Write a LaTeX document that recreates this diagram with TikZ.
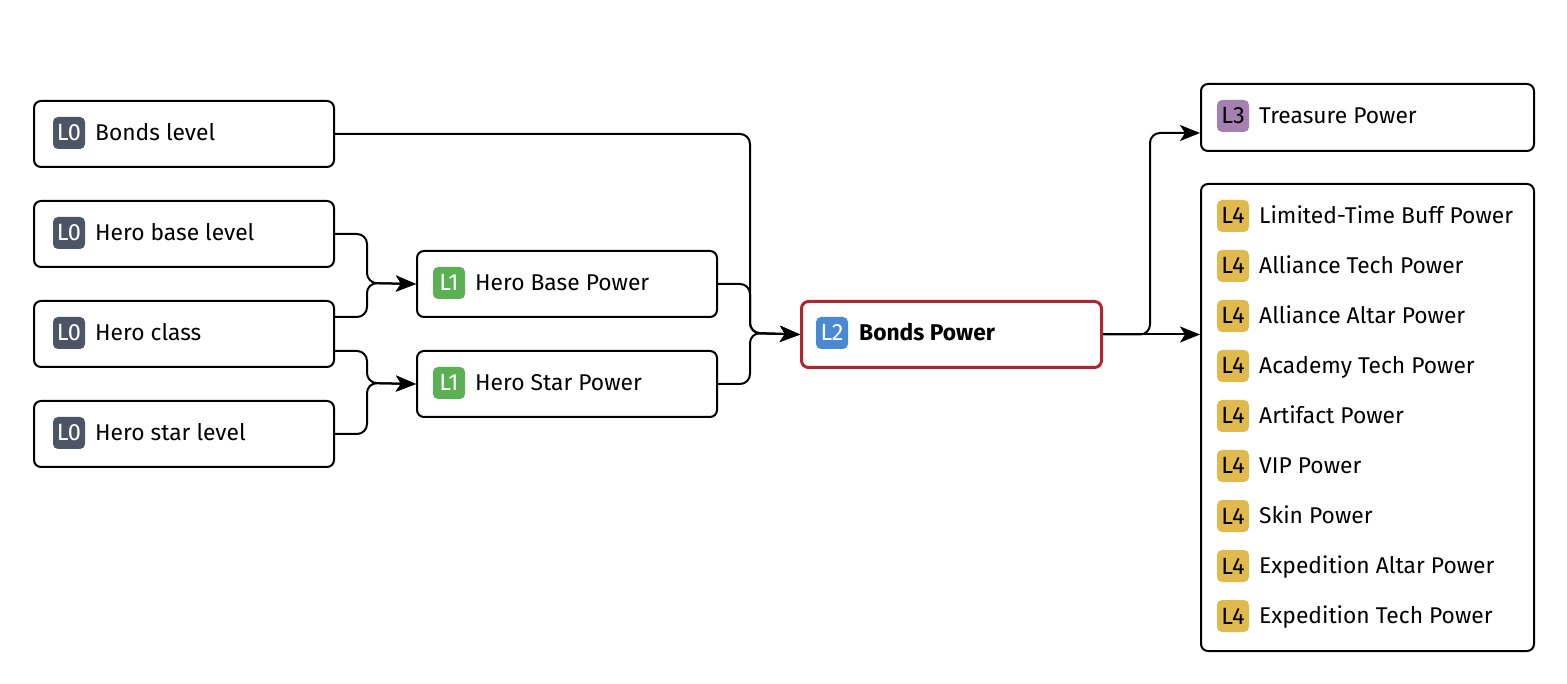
\documentclass[tikz,border=0pt]{standalone}
\usepackage{fontspec}
\setmainfont{Fira Sans}
\usetikzlibrary{arrows.meta,calc}
\definecolor{cL0}{HTML}{4B5565}
\definecolor{cL1}{HTML}{5BB054}
\definecolor{cL2}{HTML}{4A8AD2}
\definecolor{cL3}{HTML}{A680B0}
\definecolor{cL4}{HTML}{E1BA4E}
\definecolor{cRed}{HTML}{B3242B}
\tikzset{
  box/.style={draw=black, line width=2pt, rounded corners=7pt, fill=white, inner sep=0pt, anchor=north west},
  badge/.style={rounded corners=5pt, minimum size=32pt, inner sep=0pt, text height=16pt, text depth=0pt, font=\fontsize{23.5}{27}\selectfont},
  lbl/.style={anchor=base west, inner sep=0pt, font=\fontsize{22.8}{27}\selectfont},
  conn/.style={draw=black, line width=2pt, rounded corners=10pt},
  arr/.style={conn, -{Stealth[length=20pt,width=16pt,inset=5pt]}},
}
\begin{document}
\begin{tikzpicture}[x=1pt,y=-1pt]
\useasboundingbox (0,0) rectangle (1567,684);
% L0 boxes
\node[box, minimum width=300, minimum height=66] (bl) at (33,100) {};
\node[badge, fill=cL0, text=white] (blb) at (69,133) {L0};
\node[lbl] (blt) at (95,140.8) {Bonds level};
\node[box, minimum width=300, minimum height=66] (hbl) at (33,200) {};
\node[badge, fill=cL0, text=white] (hblb) at (69,233) {L0};
\node[lbl] (hblt) at (95,240.8) {Hero base level};
\node[box, minimum width=300, minimum height=66] (hc) at (33,300) {};
\node[badge, fill=cL0, text=white] (hcb) at (69,333) {L0};
\node[lbl] (hct) at (95,340.8) {Hero class};
\node[box, minimum width=300, minimum height=66] (hsl) at (33,400) {};
\node[badge, fill=cL0, text=white] (hslb) at (69,433) {L0};
\node[lbl] (hslt) at (95,440.8) {Hero star level};
% L1
\node[box, minimum width=300, minimum height=66] (hbp) at (416,250) {};
\node[badge, fill=cL1, text=white] (hbpb) at (449,283) {L1};
\node[lbl] (hbpt) at (475,290.8) {Hero Base Power};
\node[box, minimum width=300, minimum height=66] (hsp) at (416,350) {};
\node[badge, fill=cL1, text=white] (hspb) at (449,383) {L1};
\node[lbl] (hspt) at (475,390.8) {Hero Star Power};
% L2
\node[box, draw=cRed, line width=3pt, minimum width=300, minimum height=66] (bp) at (800,300) {};
\node[badge, fill=cL2, text=white] (bpb) at (832,333) {L2};
\node[lbl, font=\fontsize{22.8}{27}\selectfont\bfseries] (bpt) at (859,340.8) {Bonds Power};
% L3
\node[box, minimum width=333, minimum height=67] (tp) at (1200,83) {};
\node[badge, fill=cL3, text=black] (tpb) at (1233,116) {L3};
\node[lbl] (tpt) at (1259,123.8) {Treasure Power};
% L4
\node[box, minimum width=333, minimum height=467] (l4) at (1200,183) {};
\foreach \t [count=\i from 0] in {Limited-Time Buff Power, Alliance Tech Power, Alliance Altar Power, Academy Tech Power, Artifact Power, VIP Power, Skin Power, Expedition Altar Power, Expedition Tech Power}{
  \node[badge, fill=cL4, text=black] (l4b\i) at (1233,216+50*\i) {L4};
  \node[lbl] (l4t\i) at (1259,223.8+50*\i) {\t};
}
% connectors
\coordinate (jA) at (367,283);
\coordinate (jB) at (367,383);
\coordinate (jC) at (750,333);
\coordinate (jD) at (1150,133);
\coordinate (tpin) at (1200,133);
\draw[arr] (hbl.east) -| (jA) -- (hbp.west);
\draw[arr] ([yshift=17pt]hc.east) -| (jA) -- (hbp.west);
\draw[arr] ([yshift=-17pt]hc.east) -| (jB) -- (hsp.west);
\draw[arr] (hsl.east) -| (jB) -- (hsp.west);
\draw[arr] (bl.east) -| (jC) -- (bp.west);
\draw[arr] (hbp.east) -| (jC) -- (bp.west);
\draw[arr] (hsp.east) -| (jC) -- (bp.west);
\draw[arr] (bp.east) -| (jD) -- (tpin);
\draw[arr] (bp.east) -- (l4.west |- bp.east);
\end{tikzpicture}
\end{document}
